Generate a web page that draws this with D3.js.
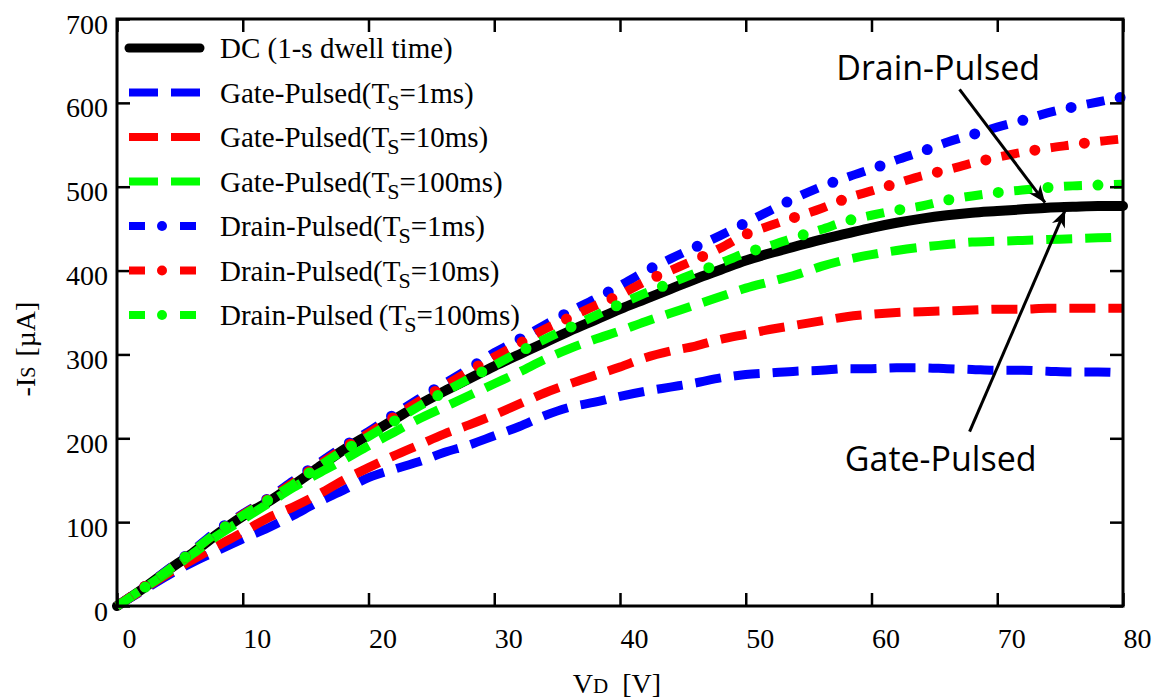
<!DOCTYPE html>
<html>
<head>
<meta charset="utf-8">
<script src="https://cdn.jsdelivr.net/npm/d3@7"></script>
<style>
  body { margin: 0; background: #fff; }
  svg { display: block; }
</style>
</head>
<body>
<svg id="chart" width="1159" height="699"></svg>
<script>
// Drain voltage sweep (V)
const vd = [0,2,4,6,8,10,12,14,16,18,20,22,24,26,28,30,32,34,36,38,40,
            42,44,46,48,50,52,54,56,58,60,62,64,66,68,70,72,74,76,78,80];

// Source current -Is (µA) for each measurement mode
const dc       = [0,20,42,63,86,107,124,144,165,186,204,222,240,256,271,286,300,314,328,341,354,
                  366,378,390,401,412,421,429,437,444,451,457,462,466,469,471,473,475,476,477,477];
const gate1    = [0,18,36,52,66,80,93,108,124,138,153,163,172,183,192,203,214,227,237,243,250,
                  256,261,266,272,276,278,280,281,283,283,284,284,283,282,281,281,280,279,279,278];
const gate10   = [0,19,38,55,72,88,105,118,133,150,165,179,192,205,216,228,241,254,265,275,285,
                  296,304,310,318,324,330,335,340,345,348,350,351,352,353,354,354,355,355,355,355];
const gate100  = [0,20,40,62,84,103,122,141,158,174,191,207,223,237,251,265,279,294,307,318,328,
                  339,349,359,369,379,387,395,405,413,419,424,428,431,434,435,436,437,438,439,440];
const drain1   = [0,21,43,66,90,110,128,149,170,190,208,228,247,265,283,302,318,335,351,366,382,
                  399,414,428,442,457,472,487,500,511,521,532,542,553,562,571,579,588,595,601,607];
const drain10  = [0,21,42,65,88,109,127,147,168,188,206,225,244,262,280,297,313,330,344,358,371,
                  387,400,413,427,443,454,464,474,486,495,504,513,520,528,535,541,546,550,554,557];
const drain100 = [0,20,42,65,88,108,126,145,166,185,202,220,238,255,271,287,303,318,332,346,360,
                  373,385,397,409,421,430,440,449,459,466,472,477,484,489,493,496,499,501,502,503];

const xTicks = [0,10,20,30,40,50,60,70,80];
const yTicks = [0,100,200,300,400,500,600,700];

// Legend labels: prefix, subscript, suffix
const legendLabels = [
  ["DC (1-s dwell time)", "", ""],
  ["Gate-Pulsed(T", "S", "=1ms)"],
  ["Gate-Pulsed(T", "S", "=10ms)"],
  ["Gate-Pulsed(T", "S", "=100ms)"],
  ["Drain-Pulsed(T", "S", "=1ms)"],
  ["Drain-Pulsed(T", "S", "=10ms)"],
  ["Drain-Pulsed\u2009(T", "S", "=100ms)"]
];

const BLUE = "#0000ff", RED = "#ff0000", GREEN = "#00ff00";
const series = [
  { values: dc,       color: "#000000", kind: "solid" },
  { values: gate1,    color: BLUE,  kind: "dash" },
  { values: gate10,   color: RED,   kind: "dash" },
  { values: gate100,  color: GREEN, kind: "dash" },
  { values: drain1,   color: BLUE,  kind: "dashdot" },
  { values: drain10,  color: RED,   kind: "dashdot" },
  { values: drain100, color: GREEN, kind: "dashdot" }
];
series.forEach((s, i) => s.label = legendLabels[i]);

const svg = d3.select("#chart");
const serif = "'Liberation Serif', 'Times New Roman', serif";
const sans = "'Open Sans', 'Liberation Sans', sans-serif";

const x = d3.scaleLinear().domain([0, 80]).range([117, 1123]);
const y = d3.scaleLinear().domain([0, 700]).range([606, 19]);

const line = d3.line()
  .x((d, i) => x(vd[i]))
  .y(d => y(d))
  .curve(d3.curveMonotoneX);

// Draw a path in one of the three line styles: solid, dashed, dash-dot
function drawStyled(g, pathD, s, dashArr, dotArr, dotOffset, width) {
  if (s.kind === "solid") {
    g.append("path").attr("d", pathD).attr("fill", "none")
      .attr("stroke", s.color).attr("stroke-width", width + 1)
      .attr("stroke-linecap", "round").attr("stroke-linejoin", "round");
  } else if (s.kind === "dash") {
    g.append("path").attr("d", pathD).attr("fill", "none")
      .attr("stroke", s.color).attr("stroke-width", width)
      .attr("stroke-dasharray", dashArr);
  } else {
    g.append("path").attr("d", pathD).attr("fill", "none")
      .attr("stroke", s.color).attr("stroke-width", width)
      .attr("stroke-dasharray", dashArr);
    g.append("path").attr("d", pathD).attr("fill", "none")
      .attr("stroke", s.color).attr("stroke-width", width + 2)
      .attr("stroke-linecap", "round")
      .attr("stroke-dasharray", dotArr)
      .attr("stroke-dashoffset", -dotOffset);
  }
}

// Data curves
const curves = svg.append("g");
series.forEach(s => {
  const dashArr = s.kind === "dash" ? "26,13" : "18,32";
  drawStyled(curves, line(s.values), s, dashArr, "0,50", 34, 9);
});

// Frame
svg.append("rect")
  .attr("x", x(0)).attr("y", y(700))
  .attr("width", x(80) - x(0)).attr("height", y(0) - y(700))
  .attr("fill", "none").attr("stroke", "#000").attr("stroke-width", 3);

// Axes with inward ticks on all four sides
const tickLen = 13;
const gx = svg.append("g").attr("transform", `translate(0,${y(0)})`)
  .call(d3.axisBottom(x).tickValues(xTicks).tickSizeInner(-tickLen).tickSizeOuter(0).tickPadding(22));
const gxTop = svg.append("g").attr("transform", `translate(0,${y(700)})`)
  .call(d3.axisTop(x).tickValues(xTicks).tickSizeInner(-tickLen).tickSizeOuter(0).tickFormat(""));
const gy = svg.append("g").attr("transform", `translate(${x(0)},0)`)
  .call(d3.axisLeft(y).tickValues(yTicks).tickSizeInner(-tickLen).tickSizeOuter(0).tickPadding(9));
const gyRight = svg.append("g").attr("transform", `translate(${x(80)},0)`)
  .call(d3.axisRight(y).tickValues(yTicks).tickSizeInner(-tickLen).tickSizeOuter(0).tickFormat(""));

[gx, gxTop, gy, gyRight].forEach(g => {
  g.select(".domain").remove();
  g.selectAll(".tick line").attr("stroke", "#000").attr("stroke-width", 2.5);
  g.selectAll("text").attr("font-family", serif).attr("font-size", 28).attr("fill", "#000");
});
gx.selectAll("text").attr("text-anchor", "start").attr("dx", d => d === 0 ? 5 : 0);
gy.selectAll("text").attr("dy", "0.5em");

// Axis titles
const xTitle = svg.append("text")
  .attr("x", 617).attr("y", 693)
  .attr("text-anchor", "middle")
  .attr("font-family", serif).attr("font-size", 28);
xTitle.append("tspan").text("V");
xTitle.append("tspan").attr("font-size", 21).text("D");
xTitle.append("tspan").attr("dx", 14).text("[V]");

const yTitle = svg.append("text")
  .attr("transform", "translate(35,349) rotate(-90)")
  .attr("text-anchor", "middle")
  .attr("font-family", serif).attr("font-size", 28);
yTitle.append("tspan").text("-I");
yTitle.append("tspan").attr("font-size", 20).text("S");
yTitle.append("tspan").attr("dx", 10).text("[\u00b5A]");

// Legend
const legend = svg.append("g");
const rowY = d => 48 + d * 44.5;
series.forEach((s, i) => {
  const row = legend.append("g").attr("transform", `translate(0,${rowY(i)})`);
  const sample = d3.line()([[129, 0], [200, 0]]);
  const dashArr = s.kind === "dash" ? "29,13" : "16,35";
  drawStyled(row, sample, s, dashArr, "0,71", 33, 8);
  const t = row.append("text")
    .attr("x", 220).attr("y", 10)
    .attr("font-family", serif).attr("font-size", 29).attr("fill", "#000");
  t.append("tspan").text(s.label[0]);
  if (s.label[1]) {
    t.append("tspan").attr("dx", -2).attr("dy", 7).attr("font-size", 22).text(s.label[1]);
    t.append("tspan").attr("dy", -7).text(s.label[2]);
  }
});

// Annotations with arrows pointing at the curve ends
const defs = svg.append("defs");
defs.append("marker")
  .attr("id", "arrowhead")
  .attr("viewBox", "-18 -9 20 18")
  .attr("markerUnits", "userSpaceOnUse")
  .attr("markerWidth", 20).attr("markerHeight", 18)
  .attr("refX", 0).attr("refY", 0)
  .attr("orient", "auto")
  .append("path")
  .attr("d", "M0,0 L-17,-7 L-12,0 L-17,7 Z")
  .attr("fill", "#000");

const annotations = [
  { text: "Drain-Pulsed", tx: 65.3, ty: 627, from: [67.0, 616], to: [73.8, 481] },
  { text: "Gate-Pulsed",  tx: 65.5, ty: 161, from: [67.8, 208], to: [75.4, 472] }
];
annotations.forEach(a => {
  svg.append("line")
    .attr("x1", x(a.from[0])).attr("y1", y(a.from[1]))
    .attr("x2", x(a.to[0])).attr("y2", y(a.to[1]))
    .attr("stroke", "#000").attr("stroke-width", 3)
    .attr("marker-end", "url(#arrowhead)");
  svg.append("text")
    .attr("x", x(a.tx)).attr("y", y(a.ty))
    .attr("text-anchor", "middle")
    .attr("font-family", sans).attr("font-size", 34).attr("fill", "#000")
    .text(a.text);
});
</script>
</body>
</html>
